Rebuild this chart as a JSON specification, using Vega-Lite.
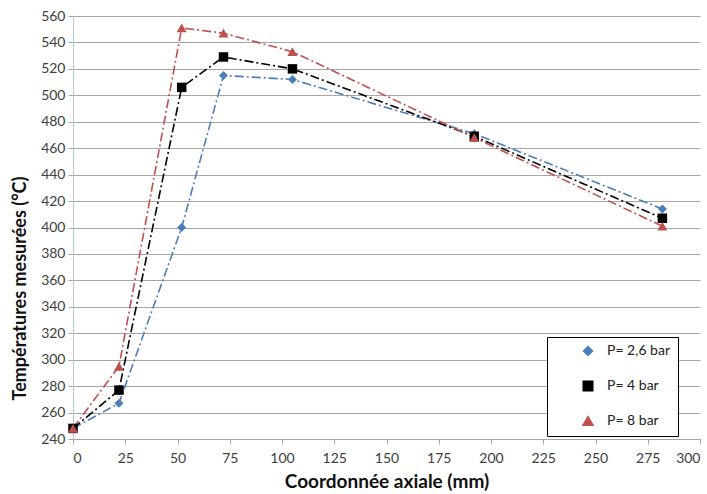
{
  "$schema": "https://vega.github.io/schema/vega-lite/v6.json",
  "width": 627,
  "height": 423,
  "autosize": {"type": "none"},
  "padding": {"left": 73, "top": 16, "right": 7, "bottom": 55},
  "background": "white",
  "config": {
    "view": {"stroke": null},
    "font": "Lato",
    "axis": {"labelFont": "Lato", "titleFont": "Lato", "labelFontSize": 14, "labelColor": "#404040", "titleFontWeight": "bold", "titleColor": "#111111"}
  },
  "data": {
    "values": [
      {"x": 0, "T": 248, "serie": "P= 2,6 bar"},
      {"x": 22, "T": 267, "serie": "P= 2,6 bar"},
      {"x": 52, "T": 400, "serie": "P= 2,6 bar"},
      {"x": 72, "T": 515, "serie": "P= 2,6 bar"},
      {"x": 105, "T": 512, "serie": "P= 2,6 bar"},
      {"x": 192, "T": 471, "serie": "P= 2,6 bar"},
      {"x": 282, "T": 414, "serie": "P= 2,6 bar"},
      {"x": 0, "T": 248, "serie": "P= 4 bar"},
      {"x": 22, "T": 277, "serie": "P= 4 bar"},
      {"x": 52, "T": 506, "serie": "P= 4 bar"},
      {"x": 72, "T": 529, "serie": "P= 4 bar"},
      {"x": 105, "T": 520, "serie": "P= 4 bar"},
      {"x": 192, "T": 469, "serie": "P= 4 bar"},
      {"x": 282, "T": 407, "serie": "P= 4 bar"},
      {"x": 0, "T": 248, "serie": "P= 8 bar"},
      {"x": 22, "T": 295, "serie": "P= 8 bar"},
      {"x": 52, "T": 551, "serie": "P= 8 bar"},
      {"x": 72, "T": 547, "serie": "P= 8 bar"},
      {"x": 105, "T": 533, "serie": "P= 8 bar"},
      {"x": 192, "T": 468, "serie": "P= 8 bar"},
      {"x": 282, "T": 401, "serie": "P= 8 bar"}
    ]
  },
  "encoding": {
    "x": {
      "field": "x", "type": "quantitative",
      "scale": {"domain": [0, 300], "nice": false, "zero": false},
      "axis": {"title": "Coordonnée axiale (mm)", "titleFontSize": 19, "values": [0, 25, 50, 75, 100, 125, 150, 175, 200, 225, 250, 275, 300], "grid": false, "domainColor": "#a6a6a6", "tickColor": "#a6a6a6", "tickSize": 5, "labelPadding": 7, "titlePadding": 7}
    },
    "y": {
      "field": "T", "type": "quantitative",
      "scale": {"domain": [240, 560], "nice": false, "zero": false},
      "axis": {"title": "Températures mesurées (°C)", "titleFontSize": 18, "titleX": -53, "titleY": 272, "titleAngle": -90, "titleAlign": "center", "titleBaseline": "middle", "values": [240, 260, 280, 300, 320, 340, 360, 380, 400, 420, 440, 460, 480, 500, 520, 540, 560], "grid": true, "gridColor": "#a6a6a6", "domainColor": "#b9c7d8", "tickColor": "#a6a6a6", "tickSize": 5, "labelPadding": 3}
    }
  },
  "layer": [
    {
      "mark": {"type": "line", "strokeWidth": 1.6, "strokeDash": [9, 3, 2, 3]},
      "encoding": {
        "stroke": {
          "field": "serie", "type": "nominal",
          "scale": {"domain": ["P= 2,6 bar", "P= 4 bar", "P= 8 bar"], "range": ["#4a7ebb", "#000000", "#c0504d"]},
          "legend": {
            "title": null,
            "orient": "none",
            "legendX": 474,
            "legendY": 321,
            "fillColor": "white",
            "strokeColor": "black",
            "padding": 7,
            "rowPadding": 19,
            "symbolOffset": 27,
            "labelOffset": 12,
            "labelFont": "Lato",
            "labelFontSize": 14,
            "labelColor": "#222222"
          }
        }
      }
    },
    {
      "mark": {"type": "point", "filled": true, "opacity": 1},
      "encoding": {
        "fill": {"field": "serie", "type": "nominal", "scale": {"domain": ["P= 2,6 bar", "P= 4 bar", "P= 8 bar"], "range": ["#4a7ebb", "#000000", "#c0504d"]}, "legend": null},
        "shape": {"field": "serie", "type": "nominal", "scale": {"domain": ["P= 2,6 bar", "P= 4 bar", "P= 8 bar"], "range": ["diamond", "square", "triangle-up"]}, "legend": null},
        "size": {"field": "serie", "type": "nominal", "scale": {"domain": ["P= 2,6 bar", "P= 4 bar", "P= 8 bar"], "range": [80, 100, 110]}, "legend": null}
      }
    }
  ]
}
